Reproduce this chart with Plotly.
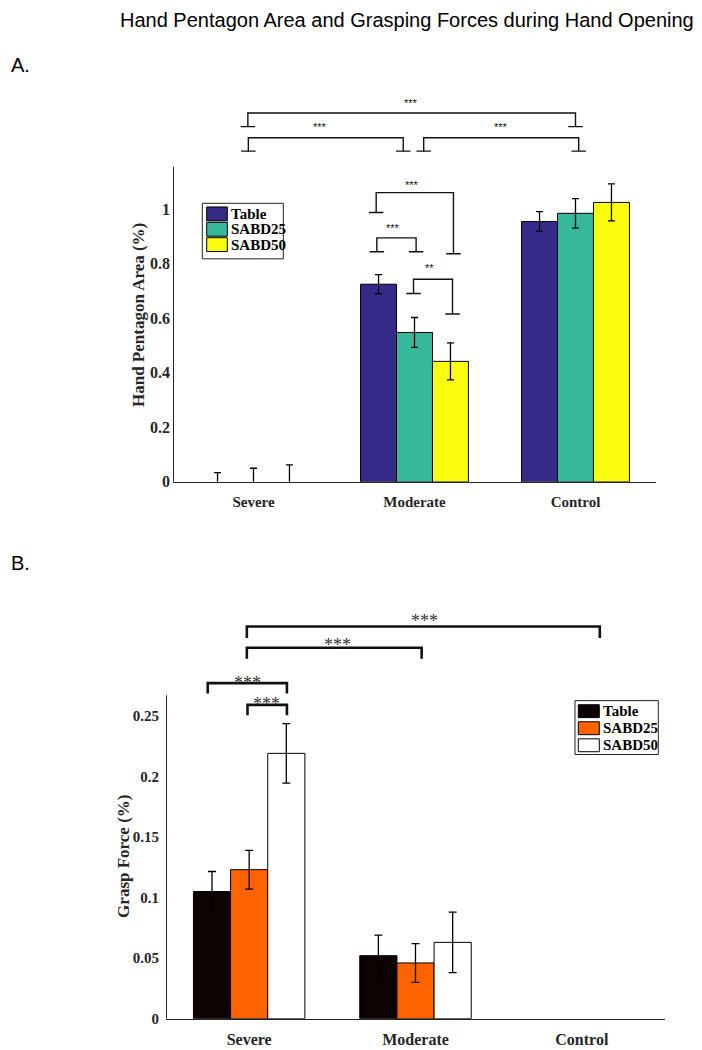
import plotly.graph_objects as go

# ---------------- data ----------------
categories = ["Severe", "Moderate", "Control"]
series_names = ["Table", "SABD25", "SABD50"]
x_pos = [1, 2, 3]

# Panel A: Hand pentagon area (%)
area_table = [0.0, 0.725, 0.955]
area_sabd25 = [0.0, 0.548, 0.985]
area_sabd50 = [0.0, 0.442, 1.025]
area_err_table = [0.034, 0.035, 0.036]
area_err_sabd25 = [0.050, 0.055, 0.054]
area_err_sabd50 = [0.062, 0.068, 0.068]

# Panel B: Grasp force (%)
force_table = [0.105, 0.052, 0.0]
force_sabd25 = [0.123, 0.046, 0.0]
force_sabd50 = [0.219, 0.063, 0.0]
force_err_table = [0.0165, 0.017, 0.0]
force_err_sabd25 = [0.016, 0.016, 0.0]
force_err_sabd50 = [0.0245, 0.025, 0.0]

area_ticks = [0, 0.2, 0.4, 0.6, 0.8, 1]
area_ticktext = ["0", "0.2", "0.4", "0.6", "0.8", "1"]
force_ticks = [0, 0.05, 0.1, 0.15, 0.2, 0.25]
force_ticktext = ["0", "0.05", "0.1", "0.15", "0.2", "0.25"]

# significance brackets: (x_left, x_right, y_bar, y_left_end, y_right_end, label, label_x, label_y)
area_sig = [
    (0.965, 3.00, 1.353, 1.303, 1.303, "***", 1.98, 1.396),
    (0.968, 1.93, 1.262, 1.213, 1.213, "***", 1.41, 1.310),
    (2.057, 3.02, 1.262, 1.213, 1.213, "***", 2.54, 1.310),
    (1.762, 2.242, 1.061, 0.988, 0.837, "***", 1.984, 1.098),
    (1.766, 2.010, 0.895, 0.844, 0.844, "***", 1.866, 0.937),
    (1.994, 2.236, 0.743, 0.691, 0.616, "**", 2.093, 0.792),
]
force_sig = [
    (0.986, 3.108, 0.3237, 0.3142, 0.3142, "***", 2.055, 0.3335),
    (0.986, 2.037, 0.3061, 0.2971, 0.2971, "***", 1.530, 0.3134),
    (0.751, 1.227, 0.2770, 0.2684, 0.2684, "***", 0.990, 0.2823),
    (0.990, 1.227, 0.2590, 0.2504, 0.2504, "***", 1.107, 0.2643),
]

area_colors = ["#352a87", "#37b89c", "#fbfb10"]
force_colors = ["#0e0303", "#ff6300", "#ffffff"]

area_ymax_axis = 1.156
force_ymax_axis = 0.267

# ---------------- layout helpers ----------------
# the page body has an 8px margin; positions below are page pixels
OFF = 8
FW, FH = 702 - OFF, 1050 - OFF


def px(xp):
    return (xp - OFF) / FW


def py(yp):
    return 1 - (yp - OFF) / FH


SERIF = "Liberation Serif"
SANS = "Liberation Sans"
AXC = "#262626"

fig = go.Figure()


def edge_widths(vals):
    return [0 if v == 0 else 1 for v in vals]


def visible_errs(errs):
    # "NaN" makes plotly.js skip the error bar for that point
    return [e if e > 0 else "NaN" for e in errs]


for name, vals, errs, col in zip(series_names,
                                 [area_table, area_sabd25, area_sabd50],
                                 [area_err_table, area_err_sabd25, area_err_sabd50],
                                 area_colors):
    fig.add_trace(go.Bar(
        x=x_pos, y=vals, name=name, showlegend=False,
        marker=dict(color=col, line=dict(color="black", width=edge_widths(vals))),
        error_y=dict(type="data", array=visible_errs(errs), color="black", thickness=1.3, width=3.5),
        xaxis="x", yaxis="y"))

for name, vals, errs, col in zip(series_names,
                                 [force_table, force_sabd25, force_sabd50],
                                 [force_err_table, force_err_sabd25, force_err_sabd50],
                                 force_colors):
    fig.add_trace(go.Bar(
        x=x_pos, y=vals, name=name, showlegend=False,
        marker=dict(color=col, line=dict(color="black", width=edge_widths(vals))),
        error_y=dict(type="data", array=visible_errs(errs), color="black", thickness=1.3, width=4),
        xaxis="x2", yaxis="y2"))

shapes = []
annotations = []

# y-axis lines (stop at the original axis limit)
shapes.append(dict(type="line", xref="x", yref="y", x0=0.5, x1=0.5, y0=0, y1=area_ymax_axis,
                   line=dict(color=AXC, width=2)))
shapes.append(dict(type="line", xref="x2", yref="y2", x0=0.5, x1=0.5, y0=0, y1=force_ymax_axis,
                   line=dict(color=AXC, width=2)))

# Panel A brackets (thin, with feet)
foot = 0.045
for (x0, x1, yb, yl, yr, lab, lx, ly) in area_sig:
    path = f"M {x0},{yl} L {x0},{yb} L {x1},{yb} L {x1},{yr}"
    shapes.append(dict(type="path", xref="x", yref="y", path=path,
                       line=dict(color="#111111", width=1.4)))
    for xx, yy in ((x0, yl), (x1, yr)):
        shapes.append(dict(type="line", xref="x", yref="y", x0=xx - foot, x1=xx + foot, y0=yy, y1=yy,
                           line=dict(color="#111111", width=1.4)))
    annotations.append(dict(x=lx, y=ly, xref="x", yref="y", text=lab, showarrow=False,
                            font=dict(family=SANS, size=11, color="#111111"),
                            xanchor="center", yanchor="middle", yshift=-2))

# Panel B brackets (thick)
for (x0, x1, yb, yl, yr, lab, lx, ly) in force_sig:
    path = f"M {x0},{yl} L {x0},{yb} L {x1},{yb} L {x1},{yr}"
    shapes.append(dict(type="path", xref="x2", yref="y2", path=path,
                       line=dict(color="#111111", width=2.6)))
    annotations.append(dict(x=lx, y=ly, xref="x2", yref="y2", text=lab, showarrow=False,
                            font=dict(family=SERIF, size=18, color="#333333"),
                            xanchor="center", yanchor="middle", yshift=-6))


# custom legends
def add_legend(box, sw_x, first_cy, step, half_h, text_x, colors):
    shapes.append(dict(type="rect", xref="paper", yref="paper",
                       x0=px(box[0]), x1=px(box[1]), y0=py(box[3]), y1=py(box[2]),
                       line=dict(color="#222222", width=1), fillcolor="white", layer="above"))
    for i, (name, col) in enumerate(zip(series_names, colors)):
        cy = first_cy + i * step
        shapes.append(dict(type="rect", xref="paper", yref="paper",
                           x0=px(sw_x[0]), x1=px(sw_x[1]), y0=py(cy + half_h), y1=py(cy - half_h),
                           line=dict(color="black", width=1), fillcolor=col, layer="above"))
        annotations.append(dict(x=px(text_x), y=py(cy), xref="paper", yref="paper", text=name,
                                showarrow=False, xanchor="left", yanchor="middle",
                                font=dict(family=SERIF, size=15, color="black", weight="bold")))


add_legend((202.3, 283.3, 205, 261), (206.7, 227.3), 215.7, 15.5, 7, 228.5, area_colors)
add_legend((575, 658.3, 706.7, 761), (578.3, 599.3), 717.3, 17.2, 6.5, 600.7, force_colors)

# y-axis titles
annotations.append(dict(x=px(138.3), y=0.613, xref="paper", yref="y", text="Hand Pentagon Area (%)",
                        textangle=-90, showarrow=False, xanchor="center", yanchor="middle",
                        font=dict(family=SERIF, size=17, color=AXC, weight="bold")))
annotations.append(dict(x=px(123.3), y=0.1338, xref="paper", yref="y2", text="Grasp Force (%)",
                        textangle=-90, showarrow=False, xanchor="center", yanchor="middle",
                        font=dict(family=SERIF, size=17, color=AXC, weight="bold")))

# title and panel labels
annotations.append(dict(x=px(696), y=py(20), xref="paper", yref="paper",
                        text="Hand Pentagon Area and Grasping Forces during Hand Opening",
                        showarrow=False, xanchor="right", yanchor="middle",
                        font=dict(family=SANS, size=20, color="black")))
annotations.append(dict(x=px(9), y=py(66), xref="paper", yref="paper", text="A.", showarrow=False,
                        xanchor="left", yanchor="middle", font=dict(family=SANS, size=20, color="black")))
annotations.append(dict(x=px(9), y=py(568), xref="paper", yref="paper", text="B.", showarrow=False,
                        xanchor="left", yanchor="middle", font=dict(family=SANS, size=20, color="black")))

fig.update_layout(
    width=FW, height=FH,
    margin=dict(l=0, r=0, t=0, b=0),
    paper_bgcolor="white", plot_bgcolor="white",
    barmode="group", bargap=0.33, bargroupgap=0,
    showlegend=False,
    xaxis=dict(domain=[px(173), px(656)], range=[0.5, 3.5], tickvals=x_pos, ticktext=categories,
               showline=True, linecolor=AXC, linewidth=1, ticks="", showgrid=False, zeroline=False,
               tickfont=dict(family=SERIF, size=15, color=AXC, weight="bold"), anchor="y",
               ticklabelstandoff=6, fixedrange=True),
    yaxis=dict(domain=[py(486), py(95)], range=[0, 1.4218], tickvals=area_ticks, ticktext=area_ticktext,
               showline=False, ticks="", showgrid=False, zeroline=False,
               tickfont=dict(family=SERIF, size=16, color=AXC, weight="bold"), anchor="x",
               ticklabelstandoff=2, fixedrange=True),
    xaxis2=dict(domain=[px(166), px(665)], range=[0.5, 3.5], tickvals=x_pos, ticktext=categories,
                showline=True, linecolor=AXC, linewidth=1, ticks="", showgrid=False, zeroline=False,
                tickfont=dict(family=SERIF, size=16, color=AXC, weight="bold"), anchor="y2",
                ticklabelstandoff=6, fixedrange=True),
    yaxis2=dict(domain=[py(1027.5), py(605)], range=[0, 0.3457], tickvals=force_ticks,
                ticktext=force_ticktext, showline=False, ticks="", showgrid=False, zeroline=False,
                tickfont=dict(family=SERIF, size=15, color=AXC, weight="bold"), anchor="x2",
                ticklabelstandoff=6, fixedrange=True),
    shapes=shapes,
    annotations=annotations,
)

fig.write_html("out.html")
